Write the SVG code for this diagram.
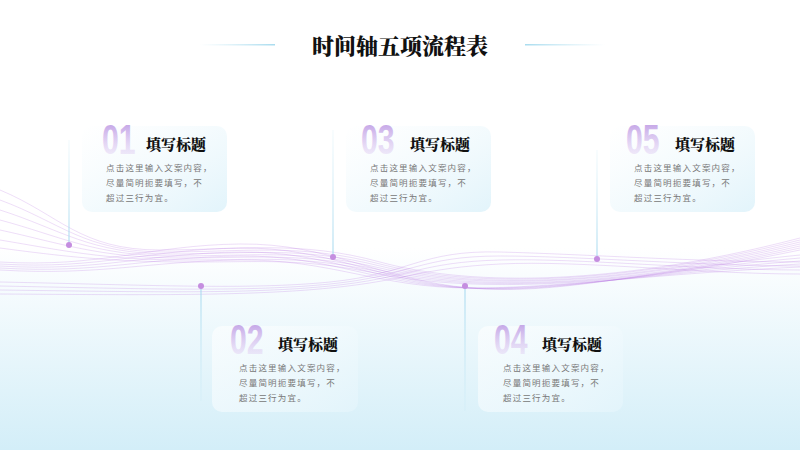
<svg xmlns="http://www.w3.org/2000/svg" width="800" height="450" viewBox="0 0 800 450">
<defs>
<linearGradient id="bg" x1="0" y1="0" x2="0" y2="1"><stop offset="0.55" stop-color="#ffffff"/><stop offset="1" stop-color="#d3eef8"/></linearGradient>
<linearGradient id="card" x1="0" y1="0" x2="1" y2="1"><stop offset="0" stop-color="#ffffff" stop-opacity="0.6"/><stop offset="1" stop-color="#e2f4fb"/></linearGradient>
<linearGradient id="num" x1="0" y1="0" x2="0" y2="1"><stop offset="0" stop-color="#b58de0"/><stop offset="1" stop-color="#e9dcf6" stop-opacity="0.3"/></linearGradient>
<linearGradient id="hl" x1="0" y1="0" x2="1" y2="0"><stop offset="0" stop-color="#bfe6f3" stop-opacity="0"/><stop offset="1" stop-color="#a9dcef"/></linearGradient>
<linearGradient id="hr" x1="1" y1="0" x2="0" y2="0"><stop offset="0" stop-color="#bfe6f3" stop-opacity="0"/><stop offset="1" stop-color="#a9dcef"/></linearGradient>
<linearGradient id="vl" x1="0" y1="0" x2="0" y2="1"><stop offset="0" stop-color="#b9e3f2" stop-opacity="0.2"/><stop offset="1" stop-color="#9fd6ee"/></linearGradient>
<linearGradient id="vl2" x1="0" y1="1" x2="0" y2="0"><stop offset="0" stop-color="#b9e3f2" stop-opacity="0.2"/><stop offset="1" stop-color="#9fd6ee"/></linearGradient>
</defs>
<style>
.w{fill:none;stroke:#b36be0;stroke-width:0.5;opacity:0.45}
.t{font-family:"Noto Serif CJK SC","Noto Sans CJK SC",serif;font-weight:900;fill:#111}
.n{font-family:"Liberation Sans",sans-serif;font-weight:bold;font-size:42px;fill:url(#num)}
.b{font-family:"Noto Sans CJK SC",sans-serif;font-size:8.5px;fill:#777;letter-spacing:1.2px}
.dot{fill:#c58ee0}
</style>
<rect width="800" height="450" fill="url(#bg)"/>
<g id="title">
<rect x="200" y="44" width="75" height="1.5" fill="url(#hl)"/>
<rect x="525" y="44" width="80" height="1.5" fill="url(#hr)"/>
<text x="400" y="54" text-anchor="middle" class="t" font-size="22">时间轴五项流程表</text>
</g>
<g id="waves">
<path class="w" d="M0,190 C60,215 80,250 160,250 S300,240 380,262 S600,290 800,238"/>
<path class="w" d="M0,200 C60,222 85,252 165,252 S300,243 380,264 S600,290 800,240"/>
<path class="w" d="M0,210 C60,229 90,254 170,254 S300,246 380,266 S600,291 800,242"/>
<path class="w" d="M0,220 C60,236 95,256 175,256 S300,249 380,268 S600,291 800,244"/>
<path class="w" d="M0,230 C60,243 100,258 180,258 S300,252 380,270 S600,292 800,246"/>
<path class="w" d="M0,240 C60,250 105,260 185,260 S300,255 380,272 S600,292 800,248"/>
<path class="w" d="M0,248 C60,256 110,262 190,262 S300,258 380,274 S600,292 800,250"/>
<path class="w" d="M0,262 C100,268 150,245 240,244 S380,280 470,288 S650,270 800,255"/>
<path class="w" d="M0,264 C100,270 150,249 240,248 S380,282 470,288 S650,271 800,258"/>
<path class="w" d="M0,266 C100,272 150,253 240,252 S380,284 470,288 S650,272 800,261"/>
<path class="w" d="M0,268 C100,274 150,257 240,256 S380,286 470,288 S650,273 800,264"/>
<path class="w" d="M0,270 C100,276 150,261 240,260 S380,288 470,288 S650,274 800,267"/>
<path class="w" d="M0,282 C150,285 250,290 330,282 S420,250 500,252 S700,262 800,262"/>
<path class="w" d="M0,286 C150,289 250,292 330,284 S420,256 500,256 S700,266 800,266"/>
<path class="w" d="M0,290 C150,292 250,294 330,286 S420,262 500,260 S700,270 800,270"/>
<path class="w" d="M0,294 C150,295 250,296 330,288 S420,268 500,264 S700,274 800,274"/>
</g>
<g id="connectors">
<rect x="68.5" y="140" width="1" height="105" fill="url(#vl)"/>
<rect x="332.5" y="130" width="1" height="127" fill="url(#vl)"/>
<rect x="596.5" y="150" width="1" height="109" fill="url(#vl)"/>
<rect x="200.5" y="286" width="1" height="115" fill="url(#vl2)"/>
<rect x="464.5" y="286" width="1" height="125" fill="url(#vl2)"/>
<circle class="dot" cx="69" cy="245" r="3"/>
<circle class="dot" cx="333" cy="257" r="3"/>
<circle class="dot" cx="597" cy="259" r="3"/>
<circle class="dot" cx="201" cy="286" r="3"/>
<circle class="dot" cx="465" cy="286" r="3"/>
</g>
<g id="n1"><rect x="82" y="126" width="145" height="86" rx="10" fill="url(#card)"/>
<text transform="translate(102,154) scale(0.72,1)" class="n">01</text><text x="146" y="150" class="t" font-size="15">填写标题</text>
<text x="106" y="171" class="b">点击这里输入文案内容，</text><text x="106" y="186" class="b">尽量简明扼要填写，不</text><text x="106" y="201" class="b">超过三行为宜。</text></g>
<g id="n3"><rect x="346" y="126" width="145" height="86" rx="10" fill="url(#card)"/>
<text transform="translate(361,154) scale(0.72,1)" class="n">03</text><text x="410" y="150" class="t" font-size="15">填写标题</text>
<text x="370" y="171" class="b">点击这里输入文案内容，</text><text x="370" y="186" class="b">尽量简明扼要填写，不</text><text x="370" y="201" class="b">超过三行为宜。</text></g>
<g id="n5"><rect x="610" y="126" width="145" height="86" rx="10" fill="url(#card)"/>
<text transform="translate(626,154) scale(0.72,1)" class="n">05</text><text x="675" y="150" class="t" font-size="15">填写标题</text>
<text x="634" y="171" class="b">点击这里输入文案内容，</text><text x="634" y="186" class="b">尽量简明扼要填写，不</text><text x="634" y="201" class="b">超过三行为宜。</text></g>
<g id="n2"><rect x="212" y="326" width="146" height="86" rx="10" fill="url(#card)"/>
<text transform="translate(230,354) scale(0.72,1)" class="n">02</text><text x="278" y="350" class="t" font-size="15">填写标题</text>
<text x="239" y="371" class="b">点击这里输入文案内容，</text><text x="239" y="386" class="b">尽量简明扼要填写，不</text><text x="239" y="401" class="b">超过三行为宜。</text></g>
<g id="n4"><rect x="478" y="326" width="145" height="86" rx="10" fill="url(#card)"/>
<text transform="translate(494,354) scale(0.72,1)" class="n">04</text><text x="542" y="350" class="t" font-size="15">填写标题</text>
<text x="503" y="371" class="b">点击这里输入文案内容，</text><text x="503" y="386" class="b">尽量简明扼要填写，不</text><text x="503" y="401" class="b">超过三行为宜。</text></g>
</svg>
